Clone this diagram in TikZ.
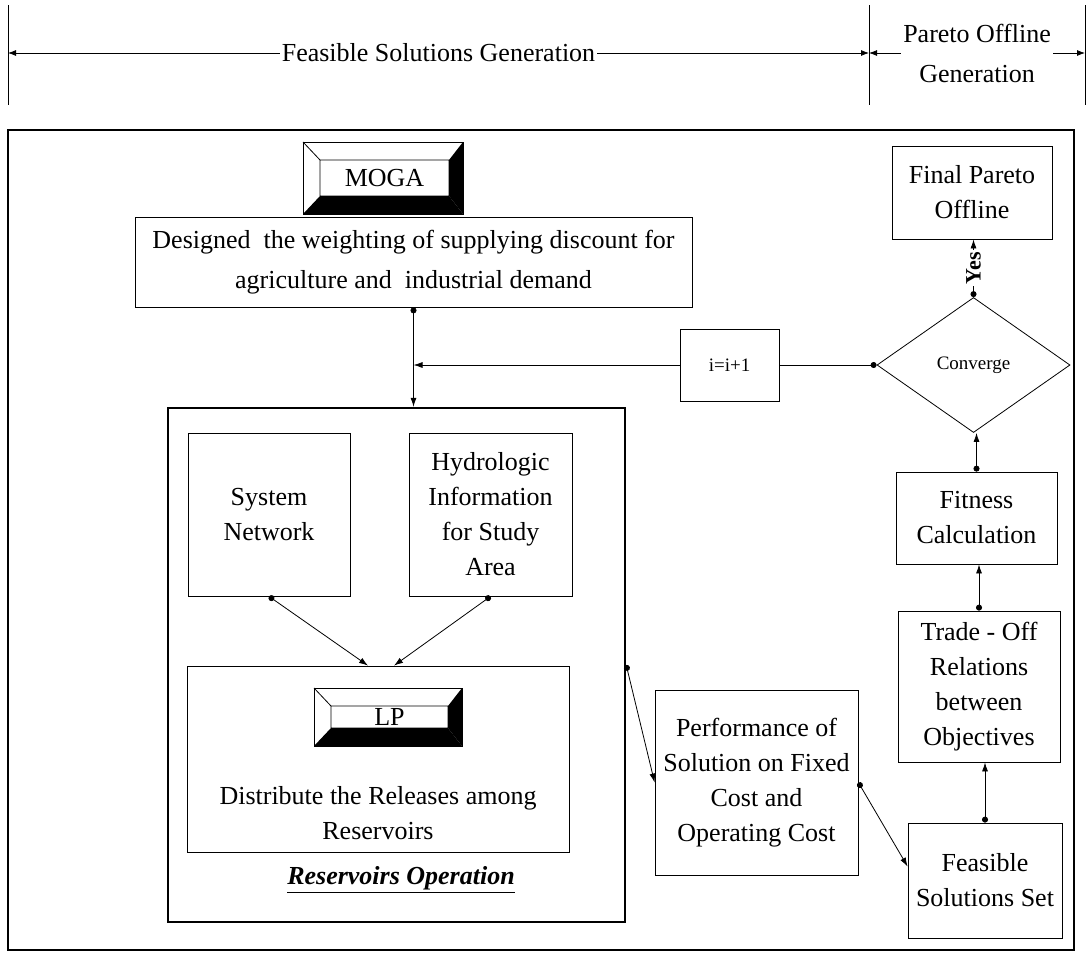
\documentclass[tikz,border=0pt]{standalone}
\usepackage{fontspec}
\setmainfont{Liberation Serif}
\usetikzlibrary{arrows.meta,shapes.geometric}
\tikzstyle{plain box}=[
        draw,
        thin,
        align = center,
        inner sep = 0pt
    ]
\tikzstyle{heavy frame}=[
    draw,
    line width = 1.2pt
]
\tikzstyle{link}=[{Circle[length=3pt]}-{Latex[length=4.5pt,width=3pt]}]
\tikzstyle{dot line}=[{Circle[length=3pt]}-]
\tikzstyle{flow}=[-{Latex[length=4.5pt,width=3pt]}]
\tikzstyle{span}=[{Latex[length=4pt,width=3pt]}-{Latex[length=4pt,width=3pt]}]

\begin{document}
\begin{tikzpicture}[x=0.5pt, y=-0.5pt, thin, font=\fontsize{13}{17.5}\selectfont,
        small/.style = {font=\fontsize{9.5}{11}\selectfont}]
        \useasboundingbox (0,0) rectangle (1090,960);

        % header
        \coordinate (lt) at (8,53);
        \coordinate (mt) at (869,53);
        \coordinate (rt) at (1085,53);
        \draw (8,5) -- (8,105);
        \draw (869,5) -- (869,105);
        \draw (1085,5) -- (1085,105);
        \draw[span] (lt) -- (mt) node [midway, fill=white, inner sep=1pt] (fsg) {Feasible Solutions Generation};
        \draw[span] (mt) -- (rt) node [midway, fill=white, inner sep=1pt, align=center,
            font=\fontsize{13}{20}\selectfont] (pog) {Pareto Offline\\Generation};

        % frames
        \draw[heavy frame] (8,130) rectangle (1074,950);
        \node[heavy frame, minimum width=228.5pt, minimum height=257pt] (resop) at (396.5,665) {};
        \node (resoplabel) at (401,880) {\textbf{\textit{\underline{Reservoirs Operation}}}};

        % bevelled title boxes
        \foreach \name/\xa/\ya/\xb/\yb/\txt in {moga/303/142/463/214/MOGA, lp/314/688/462/746/LP} {
            \draw (\xa,\ya) rectangle (\xb,\yb);
            \fill (\xa,\yb) -- (\xb,\yb) -- (\xb-14,\yb-18) -- (\xa+17,\yb-18) -- cycle;
            \fill (\xb,\ya) -- (\xb,\yb) -- (\xb-14,\yb-18) -- (\xb-14,\ya+18) -- cycle;
            \draw (\xa,\ya) -- (\xa+17,\ya+18) rectangle (\xb-14,\yb-18);
            \node (\name) at ({(\xa+\xb+3)/2},{(\ya+\yb)/2}) {\txt};
        }

        % boxes
        \node[plain box, minimum width=278.5pt, minimum height=45pt, font=\fontsize{13}{20}\selectfont]
            (design) at (413.5,262) {Designed\ \ the weighting of supplying discount for\\agriculture and\ \ industrial demand};
        \node[plain box, minimum width=81pt, minimum height=81.5pt] (sysnet) at (269,514.5) {System\\Network};
        \node[plain box, minimum width=81.5pt, minimum height=81.5pt] (hydro) at (490.5,514.5) {Hydrologic\\Information\\for Study\\Area};
        \node[plain box, minimum width=191pt, minimum height=93pt] (lpbox) at (378,759) {};
        \node[align=center] (distr) at (378,813) {Distribute the Releases among\\Reservoirs};
        \node[plain box, minimum width=49.5pt, minimum height=36pt, small] (iinc) at (729.5,365) {i=i+1};
        \node[draw, diamond, aspect=1.43, minimum width=96.5pt, minimum height=67.5pt, inner sep=0pt, small]
            (conv) at (973.5,365) {Converge};
        \node[plain box, minimum width=80pt, minimum height=46.5pt] (final) at (972,192.5) {Final Pareto\\Offline};
        \node[plain box, minimum width=80.5pt, minimum height=46pt] (fitness) at (976.5,518) {Fitness\\Calculation};
        \node[plain box, minimum width=81pt, minimum height=75.5pt] (trade) at (979,686.5) {Trade - Off\\Relations\\between\\Objectives};
        \node[plain box, minimum width=101.5pt, minimum height=92.5pt] (perf) at (756.5,782.5) {Performance of\\Solution on Fixed\\Cost and\\Operating Cost};
        \node[plain box, minimum width=77pt, minimum height=57.5pt] (fset) at (985,880.5) {Feasible\\Solutions Set};

        % connectors
        \coordinate (junc) at (design.south |- iinc.west);
        \draw[link] (design.south) -- (design.south |- resop.north);
        \draw[dot line] (conv.west) -- (iinc.east);
        \draw[flow] (iinc.west) -- (junc);
        \draw[link] (sysnet.south) -- ([xshift=-5pt]lpbox.north);
        \draw[link] (hydro.south) -- ([xshift=8pt]lpbox.north);
        \draw[link] (resop.east) -- (perf.west);
        \draw[link] (perf.east) -- ([yshift=7pt]fset.west);
        \draw[link] (fset.north) -- (fset.north |- trade.south);
        \draw[link] (trade.north) -- (trade.north |- fitness.south);
        \draw[link] (fitness.north) -- (fitness.north |- conv.south);
        \draw[link] (conv.north) -- (conv.north |- final.south) node [midway, rotate=90, fill=white, inner sep=1pt,
            font=\fontsize{11}{13}\selectfont\bfseries] (yes) {Yes};

    \end{tikzpicture}
\end{document}
